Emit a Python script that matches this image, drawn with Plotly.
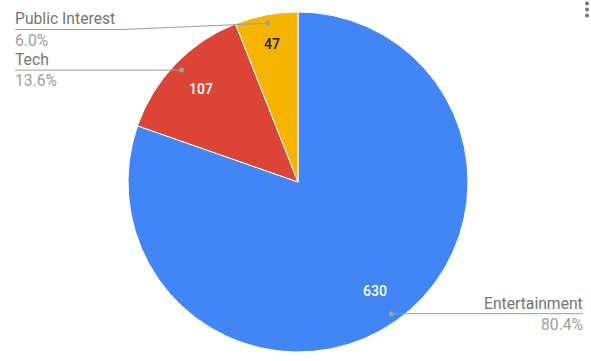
import math
import plotly.graph_objects as go

# ---- data ----
categories = ["Entertainment", "Tech", "Public Interest"]
values = [630, 107, 47]
slice_colors = ["#4285F4", "#DB4437", "#F4B400"]
value_text_colors = ["#FFFFFF", "#FFFFFF", "#212121"]

# ---- layout constants (pixels) ----
W, H = 591, 361
CX, CY, R = 298, 182, 170
DOT_FRAC = 0.95
value_radius_frac = [0.787, 0.788, 0.828]
LEFT_X, RIGHT_X = 15, 583
label_line_y_override = {"Public Interest": 29.5}
label_elbow_x = {"Public Interest": 122}
LINE_COLOR = "#9E9E9E"
NAME_COLOR = "#757575"
PCT_COLOR = "#9E9E9E"
FONT = "Roboto"
LABEL_SIZE = 15.7
VALUE_SIZE = 14


def px(x):
    return x / W


def py(y):
    return 1 - y / H


fig = go.Figure(
    go.Pie(
        labels=categories,
        values=values,
        sort=False,
        direction="clockwise",
        rotation=0,
        marker=dict(colors=slice_colors, line=dict(color="white", width=1)),
        textinfo="none",
        domain=dict(x=[px(CX - R), px(CX + R)], y=[py(CY + R), py(CY - R)]),
        showlegend=False,
    )
)

shapes = []
annotations = []
total = sum(values)
cum = 0
for i, (name, v) in enumerate(zip(categories, values)):
    mid = math.radians((cum + v / 2) / total * 360)
    cum += v
    dx, dy = math.sin(mid), -math.cos(mid)
    # value label inside slice
    vx = CX + value_radius_frac[i] * R * dx
    vy = CY + value_radius_frac[i] * R * dy
    annotations.append(dict(text=str(v), x=px(vx), y=py(vy), xref="paper", yref="paper",
                            xanchor="center", yanchor="middle", showarrow=False,
                            borderpad=0, borderwidth=0,
                            font=dict(family=FONT, size=VALUE_SIZE, color=value_text_colors[i],
                                      weight=500)))
    # leader line + dot
    dot_x = CX + DOT_FRAC * R * dx
    dot_y = CY + DOT_FRAC * R * dy
    line_y = label_line_y_override.get(name, dot_y)
    right = dx > 0
    end_x = RIGHT_X if right else LEFT_X
    elbow = label_elbow_x.get(name, dot_x)
    path = "M {} {} L {} {} L {} {}".format(
        px(end_x), py(line_y), px(elbow), py(line_y), px(dot_x), py(dot_y)
    )
    shapes.append(dict(type="path", path=path, xref="paper", yref="paper",
                       line=dict(color=LINE_COLOR, width=1)))
    shapes.append(dict(type="circle", xref="paper", yref="paper",
                       x0=px(dot_x - 2.5), x1=px(dot_x + 2.5),
                       y0=py(dot_y + 2.5), y1=py(dot_y - 2.5),
                       fillcolor=LINE_COLOR, line=dict(width=0)))
    anchor = "right" if right else "left"
    annotations.append(dict(text=name, x=px(end_x), y=py(line_y), xref="paper", yref="paper",
                            xanchor=anchor, yanchor="bottom", showarrow=False,
                            borderpad=0, borderwidth=0, yshift=1,
                            font=dict(family=FONT, size=LABEL_SIZE, color=NAME_COLOR)))
    annotations.append(dict(text="{:.1f}%".format(v / total * 100), x=px(end_x), y=py(line_y),
                            xref="paper", yref="paper", xanchor=anchor, yanchor="top",
                            borderpad=0, borderwidth=0, yshift=-1,
                            showarrow=False, font=dict(family=FONT, size=LABEL_SIZE, color=PCT_COLOR)))

# menu dots (top right)
for yy in (3.5, 9.5, 15.5):
    shapes.append(dict(type="circle", xref="paper", yref="paper",
                       x0=px(585), x1=px(589), y0=py(yy + 2), y1=py(yy - 2),
                       fillcolor="#757575", line=dict(width=0)))

fig.update_layout(
    width=W, height=H,
    margin=dict(l=0, r=0, t=0, b=0),
    paper_bgcolor="white",
    plot_bgcolor="white",
    shapes=shapes,
    annotations=annotations,
    font=dict(family=FONT),
)

fig.write_html("out.html")
